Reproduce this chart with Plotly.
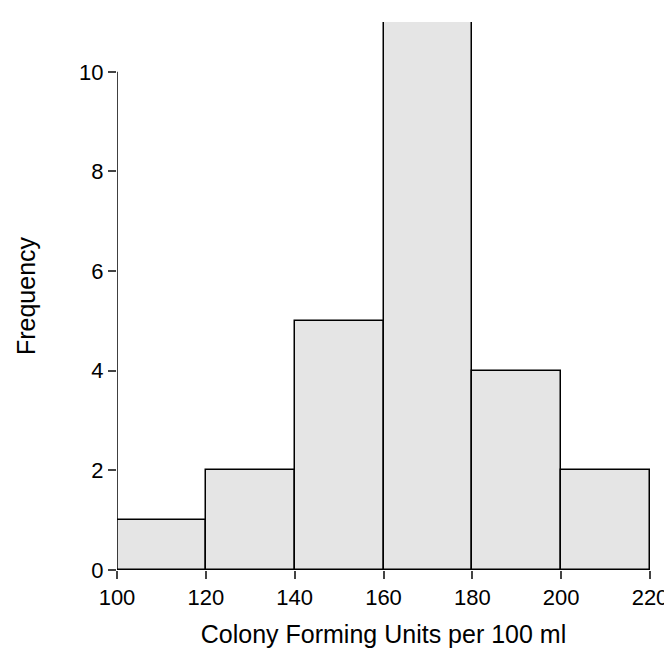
import plotly.graph_objects as go

bin_left = [100, 120, 140, 160, 180, 200]
counts = [1, 2, 5, 11, 4, 2]
x_ticks = [100, 120, 140, 160, 180, 200, 220]
y_ticks = [0, 2, 4, 6, 8, 10]

centers = [b + 10 for b in bin_left]

fig = go.Figure(go.Bar(
    x=centers, y=counts, width=20,
    marker=dict(color="#E5E5E5", line=dict(color="black", width=1.5)),
    cliponaxis=False,
))

# axis lines as in R base graphics (only spanning tick range)
fig.add_shape(type="line", xref="x", yref="y", x0=100, x1=100, y0=0, y1=10,
              line=dict(color="black", width=1.5))
fig.add_shape(type="line", xref="x", yref="y", x0=100, x1=220, y0=0, y1=0,
              line=dict(color="black", width=1.5))

fig.update_layout(
    width=672, height=672,
    margin=dict(l=109, r=22, t=14, b=110),
    plot_bgcolor="white", paper_bgcolor="white",
    font=dict(family="Liberation Sans, Arial, sans-serif", size=21, color="black"),
    showlegend=False,
    bargap=0,
)
fig.update_xaxes(range=[100, 220], tickvals=x_ticks, ticks="outside", ticklen=8,
                 tickwidth=1.5, showgrid=False, zeroline=False, showline=False,
                 tickfont=dict(size=22),
                 title=dict(text="Colony Forming Units per 100 ml", standoff=16))
fig.update_yaxes(range=[0, 11], tickvals=y_ticks, ticks="outside", ticklen=8,
                 tickwidth=1.5, showgrid=False, zeroline=False, showline=False,
                 tickfont=dict(size=22),
                 title=dict(text="Frequency", standoff=36))

fig.write_html("out.html")
